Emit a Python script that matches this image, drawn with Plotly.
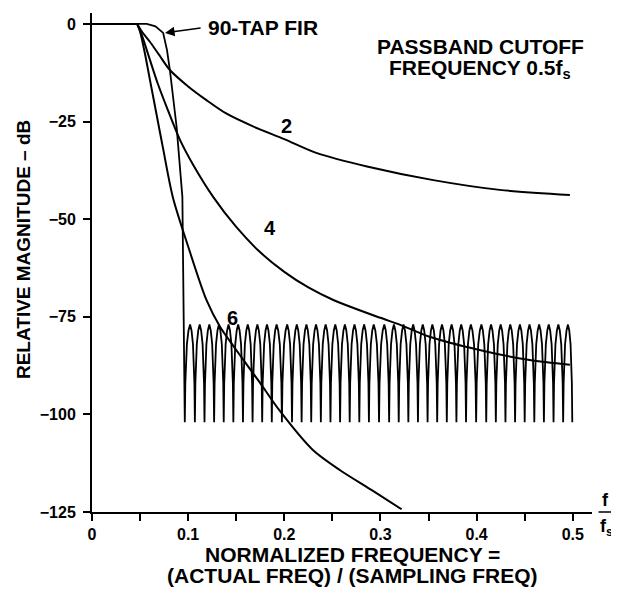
import plotly.graph_objects as go

# ---------------- data ----------------
flat_x = [0.0, 0.047]
flat_db = [0.0, 0.0]

order2_x = [0.047, 0.052, 0.060, 0.070, 0.081, 0.100, 0.119, 0.140, 0.168, 0.200,
            0.234, 0.286, 0.355, 0.424, 0.497]
order2_db = [0.0, -2.0, -4.5, -8.0, -11.8, -16.0, -19.5, -23.0, -26.3, -29.5,
             -33.1, -36.5, -40.0, -42.5, -43.8]

order4_x = [0.047, 0.052, 0.060, 0.068, 0.078, 0.0915, 0.105, 0.126, 0.150, 0.175,
            0.200, 0.225, 0.251, 0.299, 0.320, 0.351, 0.403, 0.455, 0.497]
order4_db = [0.0, -3.0, -9.0, -15.0, -21.5, -29.7, -36.0, -44.3, -52.0, -58.5,
             -63.5, -67.5, -70.7, -75.2, -77.0, -80.1, -83.5, -86.1, -87.3]

order6_x = [0.047, 0.050, 0.055, 0.060, 0.067, 0.074, 0.084, 0.100, 0.119, 0.133,
            0.150, 0.175, 0.195, 0.230, 0.258, 0.291, 0.322]
order6_db = [0.0, -2.0, -7.5, -14.0, -23.0, -32.0, -44.3, -57.0, -70.7, -77.5,
             -83.5, -92.0, -99.0, -109.2, -114.3, -119.4, -124.3]

# 90-tap FIR: passband + transition band
fir_trans_x = [0.0, 0.057, 0.066, 0.074, 0.078, 0.081, 0.088, 0.094]
fir_trans_db = [0.0, 0.0, -0.6, -2.3, -6.7, -11.8, -26.4, -44.3]

# 90-tap FIR: stopband ripple nulls and peaks
fir_null_x = [0.0965, 0.107, 0.117, 0.127, 0.137, 0.147, 0.157, 0.167, 0.177, 0.187,
              0.1975, 0.208, 0.218, 0.228, 0.238, 0.248, 0.258, 0.268, 0.278, 0.288,
              0.2985, 0.309, 0.319, 0.329, 0.339, 0.349, 0.359, 0.369, 0.379, 0.389,
              0.3995, 0.410, 0.420, 0.430, 0.440, 0.450, 0.460, 0.470, 0.480, 0.490,
              0.4995]
fir_null_db = -102.0
fir_peak_x = [0.102, 0.112, 0.122, 0.132, 0.142, 0.152, 0.162, 0.172, 0.182, 0.192,
              0.203, 0.213, 0.223, 0.233, 0.243, 0.253, 0.263, 0.273, 0.283, 0.293,
              0.304, 0.314, 0.324, 0.334, 0.344, 0.354, 0.364, 0.374, 0.384, 0.394,
              0.405, 0.415, 0.425, 0.435, 0.445, 0.455, 0.465, 0.475, 0.485, 0.495]
fir_peak_db = [-77.0, -77.0, -77.0, -77.0, -77.0, -77.0, -77.0, -77.0, -77.0, -77.0,
               -77.0, -77.0, -77.0, -77.0, -77.0, -77.0, -77.0, -77.0, -77.0, -77.0,
               -77.0, -77.0, -77.0, -77.0, -77.0, -77.0, -77.0, -77.0, -77.0, -77.0,
               -77.0, -77.0, -77.0, -77.0, -77.0, -77.0, -77.0, -77.0, -77.0, -77.0]
# shape of one ripple lobe (fraction of half-width, dB below peak)
lobe_frac = [-0.9, -0.6, -0.3, 0.0, 0.3, 0.6, 0.9]
lobe_drop = [-15.0, -5.0, -1.5, 0.0, -1.5, -5.0, -15.0]

y_tickvals = [0, -25, -50, -75, -100, -125]
y_ticktext = ["0", "\u221225", "\u221250", "\u221275", "\u2212100", "\u2212125"]
x_tickvals = [0, 0.05, 0.1, 0.15, 0.2, 0.25, 0.3, 0.35, 0.4, 0.45, 0.5]
x_ticktext = ["0", "", "0.1", "", "0.2", "", "0.3", "", "0.4", "", "0.5"]

# ---------------- build FIR polyline ----------------
fir_x = list(fir_trans_x)
fir_db = list(fir_trans_db)
fir_x.append(fir_null_x[0])
fir_db.append(fir_null_db)
for i, (px, pdb) in enumerate(zip(fir_peak_x, fir_peak_db)):
    left = fir_null_x[i]
    right = fir_null_x[i + 1]
    for f, d in zip(lobe_frac, lobe_drop):
        half = (px - left) if f < 0 else (right - px)
        fir_x.append(px + f * half)
        fir_db.append(pdb + d)
    fir_x.append(right)
    fir_db.append(fir_null_db)

FONT = "Liberation Sans, Arial, sans-serif"
BLACK = "#000000"

fig = go.Figure()
curve_style = dict(color=BLACK, width=2, shape="spline", smoothing=0.8)
fig.add_trace(go.Scatter(x=flat_x, y=flat_db, mode="lines", line=dict(color=BLACK, width=2)))
fig.add_trace(go.Scatter(x=order2_x, y=order2_db, mode="lines", line=curve_style))
fig.add_trace(go.Scatter(x=order4_x, y=order4_db, mode="lines", line=curve_style))
fig.add_trace(go.Scatter(x=order6_x, y=order6_db, mode="lines", line=curve_style))
fig.add_trace(go.Scatter(x=fir_x, y=fir_db, mode="lines", line=dict(color=BLACK, width=1.8)))

# page body has an 8px margin: figure occupies (8,8)-(619,592)
fig.update_layout(
    width=611, height=584,
    margin=dict(l=84, r=27, t=5, b=80),
    paper_bgcolor="white", plot_bgcolor="white",
    showlegend=False,
    font=dict(family=FONT, color=BLACK),
    xaxis=dict(range=[0, 0.52], showgrid=False, zeroline=False, showline=True,
               linecolor=BLACK, linewidth=2, ticks="outside", ticklen=7, tickwidth=2,
               tickcolor=BLACK, tickvals=x_tickvals, ticktext=x_ticktext,
               tickfont=dict(family=FONT, size=16, color=BLACK, weight="bold")),
    yaxis=dict(range=[-125, 2.8], showgrid=False, zeroline=False, showline=True,
               linecolor=BLACK, linewidth=2, ticks="outside", ticklen=7, tickwidth=2,
               tickcolor=BLACK, tickvals=y_tickvals, ticktext=y_ticktext,
               ticklabelstandoff=4,
               tickfont=dict(family=FONT, size=16, color=BLACK, weight="bold")),
)

ann_font = dict(family=FONT, size=21, color=BLACK, weight="bold")
num_font = dict(family=FONT, size=20, color=BLACK, weight="bold")
ylab_font = dict(family=FONT, size=19, color=BLACK, weight="bold")
xlab_font = dict(family=FONT, size=21, color=BLACK, weight="bold")
frac_font = dict(family=FONT, size=18, color=BLACK, weight="bold")

anns = [
    dict(x=0.1185, y=-1.0, xref="x", yref="y", text="90-TAP FIR", showarrow=False,
         xanchor="left", yanchor="middle", font=ann_font),
    dict(x=0.0759, y=-2.3, xref="x", yref="y", ax=0.1145, ay=-1.0, axref="x", ayref="y",
         text="", showarrow=True, arrowhead=2, arrowsize=1.2, arrowwidth=1.6, arrowcolor=BLACK),
    dict(x=0.4044, y=-5.9, xref="x", yref="y", text="PASSBAND CUTOFF", showarrow=False,
         xanchor="center", yanchor="middle", font=ann_font),
    dict(x=0.4033, y=-11.6, xref="x", yref="y", text="FREQUENCY 0.5f<sub>s</sub>",
         xanchor="center", yanchor="middle", showarrow=False, font=ann_font),
    dict(x=0.2027, y=-26.2, xref="x", yref="y", text="2", showarrow=False,
         xanchor="center", yanchor="middle", font=num_font),
    dict(x=0.185, y=-52.2, xref="x", yref="y", text="4", showarrow=False,
         xanchor="center", yanchor="middle", font=num_font),
    dict(x=0.146, y=-75.3, xref="x", yref="y", text="6", showarrow=False,
         xanchor="center", yanchor="middle", font=num_font),
    dict(x=-0.138, y=0.525, xref="paper", yref="paper", text="RELATIVE MAGNITUDE \u2013 dB",
         textangle=-90, showarrow=False, xanchor="center", yanchor="middle", font=ylab_font),
    dict(x=0.52, y=-0.085, xref="paper", yref="paper", text="NORMALIZED FREQUENCY =",
         showarrow=False, xanchor="center", yanchor="middle", font=xlab_font),
    dict(x=0.52, y=-0.128, xref="paper", yref="paper",
         text="(ACTUAL FREQ) / (SAMPLING FREQ)", showarrow=False,
         xanchor="center", yanchor="middle", font=xlab_font),
    dict(x=1.027, y=0.025, xref="paper", yref="paper", text="f", showarrow=False,
         xanchor="center", yanchor="middle", font=frac_font),
    dict(x=1.029, y=-0.031, xref="paper", yref="paper", text="f<sub>s</sub>", showarrow=False,
         xanchor="center", yanchor="middle", font=frac_font),
]
fig.update_layout(annotations=anns)
fig.add_shape(type="line", xref="paper", yref="paper", x0=1.013, x1=1.043, y0=0.0, y1=0.0,
              line=dict(color=BLACK, width=1.5))

fig.write_html("out.html")
